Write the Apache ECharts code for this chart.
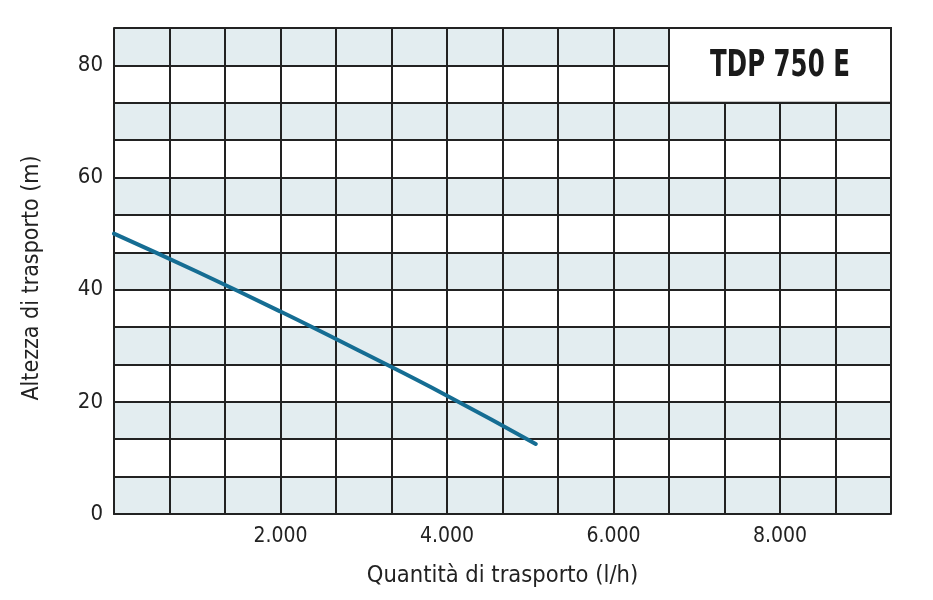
<!DOCTYPE html>
<html><head><meta charset="utf-8">
<script src="https://cdn.jsdelivr.net/npm/echarts@6/dist/echarts.min.js"></script>
<style>html,body{margin:0;padding:0;background:#fff}#c{width:933px;height:600px}</style>
</head><body><div id="c"></div>
<script>
const flowValues = [0, 1000, 2000, 3000, 4000, 5066];
const headValues = [50, 43.2, 36.1, 28.7, 21.1, 12.5];
const xTickLabels = [2000, 4000, 6000, 8000];
const yTickLabels = [0, 20, 40, 60, 80];
const title = 'TDP 750 E';
const xName = 'Quantità di trasporto (l/h)';
const yName = 'Altezza di trasporto (m)';
const xStep = 2000 / 3, yStep = 20 / 3;
const xMax = 14 * xStep, yMax = 13 * yStep;
const FONT = "'Liberation Sans Narrow', 'DejaVu Sans Condensed', sans-serif";

function near(v, arr) {
  for (const t of arr) if (Math.abs(v - t) < 1e-3) return t;
  return null;
}
const chart = echarts.init(document.getElementById('c'), null, {renderer: 'canvas'});
chart.setOption({
  animation: false,
  grid: {left: 114, right: 42, top: 28, bottom: 86, show: false},
  xAxis: {
    type: 'value', min: 0, max: xMax, interval: xStep,
    name: xName, nameLocation: 'middle', nameGap: 50,
    nameTextStyle: {fontFamily: FONT, fontSize: 23.5, color: '#222'},
    axisLine: {show: true, lineStyle: {color: '#222', width: 2}},
    axisTick: {show: false},
    splitLine: {show: true, lineStyle: {color: '#222', width: 2}},
    axisLabel: {
      margin: 12, fontFamily: FONT, fontSize: 21, color: '#222',
      formatter: v => { const t = near(v, xTickLabels); return t === null ? '' : (t / 1000).toFixed(3); }
    }
  },
  yAxis: {
    type: 'value', min: 0, max: yMax, interval: yStep,
    name: yName, nameLocation: 'middle', nameGap: 70,
    nameTextStyle: {fontFamily: FONT, fontSize: 23, color: '#222', padding: [0, 0, 0, -14]},
    axisLine: {show: true, lineStyle: {color: '#222', width: 2}},
    axisTick: {show: false},
    splitLine: {show: true, lineStyle: {color: '#222', width: 2}},
    splitArea: {show: true, areaStyle: {color: ['#e3edf0', '#ffffff']}},
    axisLabel: {
      margin: 11, fontFamily: FONT, fontSize: 22, color: '#222',
      formatter: v => { const t = near(v, yTickLabels); return t === null ? '' : String(t); }
    }
  },
  series: [{
    type: 'line',
    data: flowValues.map((x, i) => [x, headValues[i]]),
    smooth: true,
    showSymbol: false,
    lineStyle: {color: '#156d93', width: 4, cap: 'round'},
    z: 5,
    markArea: {
      silent: true,
      itemStyle: {color: '#ffffff', borderColor: '#222', borderWidth: 2},
      label: {show: false},
      data: [[{coord: [10 * xStep, 11 * yStep]}, {coord: [xMax, yMax]}]]
    }
  }]
});
const c = chart.convertToPixel({gridIndex: 0}, [12 * xStep, 12 * yStep]);
chart.setOption({
  graphic: [{
    type: 'text', x: c[0], y: c[1] + 1, scaleX: 0.8, scaleY: 1.1, z: 100,
    style: {text: title, fontFamily: FONT, fontSize: 34, fontWeight: 'bold',
      fill: '#1a1a1a', align: 'center', verticalAlign: 'middle'}
  }]
});
</script></body></html>
